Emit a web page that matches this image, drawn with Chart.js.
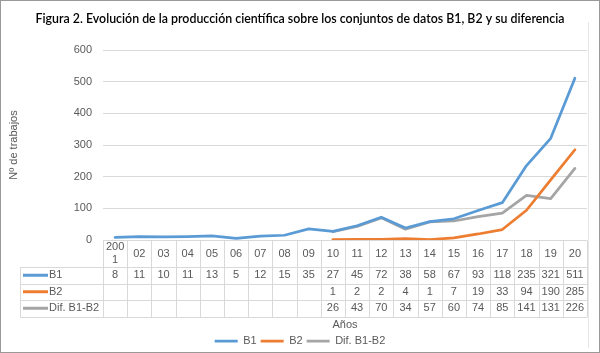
<!DOCTYPE html>
<html>
<head>
<meta charset="utf-8">
<script src="https://cdn.jsdelivr.net/npm/chart.js@4/dist/chart.umd.min.js"></script>
<style>
html,body{margin:0;padding:0;background:#fff;}
canvas{display:block;}
</style>
</head>
<body>
<canvas id="c" width="600" height="353"></canvas>
<script>
// ---- data ----
const titleText = "Figura 2. Evolución de la producción científica sobre los conjuntos de datos B1, B2 y su diferencia";
const categories = ["2001","02","03","04","05","06","07","08","09","10","11","12","13","14","15","16","17","18","19","20"];
const seriesNames = ["B1", "B2", "Dif. B1-B2"];
const b1Values = [8,11,10,11,13,5,12,15,35,27,45,72,38,58,67,93,118,235,321,511];
const b2Values = [null,null,null,null,null,null,null,null,null,1,2,2,4,1,7,19,33,94,190,285];
const difValues = [null,null,null,null,null,null,null,null,null,26,43,70,34,57,60,74,85,141,131,226];
const yTicks = [0,100,200,300,400,500,600];
const xTitle = "Años";
const yTitle = "Nº de trabajos";

const colors = ["#5B9BD5", "#ED7D31", "#A5A5A5"];
const textColor = "#595959";
const gridColor = "#D9D9D9";
const baseFont = "'Liberation Sans', Arial, sans-serif";
const lineW = 2.75;

// title font size fitted to reference width
const titleWeight = '600';
const mctx = document.createElement('canvas').getContext('2d');
mctx.font = `${titleWeight} 13px Lato`;
const w13 = mctx.measureText(titleText).width;
const titleSize = 13 * 529 / w13;
const titleLH = titleSize * 1.2;
const titlePadTop = 19 - titleLH / 2;
const titlePadBottom = 50 - titlePadTop - titleLH;

const tablePlugin = {
  id: 'dataTable',
  beforeDraw(chart) {
    const ctx = chart.ctx;
    ctx.save();
    ctx.fillStyle = '#fff';
    ctx.fillRect(0, 0, chart.width, chart.height);
    ctx.restore();
  },
  afterDraw(chart) {
    const ctx = chart.ctx;
    const xs = chart.scales.x;
    const area = chart.chartArea;
    const n = categories.length;
    const cw = xs.width / n;
    const left = xs.left, right = xs.right;
    const top = area.bottom;
    const rowH = [27, 16.5, 16.5, 16.5];
    const rowY = [top];
    rowH.forEach(h => rowY.push(rowY[rowY.length - 1] + h));
    const keyLeft = 20.5;
    const al = v => Math.round(v) + 0.5;
    ctx.save();
    ctx.strokeStyle = gridColor;
    ctx.lineWidth = 1;
    ctx.beginPath();
    ctx.moveTo(left, al(rowY[0])); ctx.lineTo(right, al(rowY[0]));
    for (let r = 1; r < rowY.length; r++) {
      ctx.moveTo(keyLeft, al(rowY[r])); ctx.lineTo(right, al(rowY[r]));
    }
    for (let i = 0; i <= n; i++) {
      const x = al(left + i * cw);
      ctx.moveTo(x, al(rowY[0])); ctx.lineTo(x, al(rowY[4]));
    }
    ctx.moveTo(keyLeft, al(rowY[1])); ctx.lineTo(keyLeft, al(rowY[4]));
    ctx.stroke();

    ctx.fillStyle = textColor;
    ctx.font = `11px ${baseFont}`;
    ctx.textAlign = 'center';
    ctx.textBaseline = 'middle';
    categories.forEach((lab, i) => {
      const cx = xs.getPixelForValue(i);
      const maxW = cw - 3;
      if (ctx.measureText(lab).width > maxW) {
        let k = lab.length;
        while (k > 1 && ctx.measureText(lab.slice(0, k)).width > maxW) k--;
        const cy = (rowY[0] + rowY[1]) / 2;
        ctx.fillText(lab.slice(0, k), cx, cy - 6.5);
        ctx.fillText(lab.slice(k), cx, cy + 6.5);
      } else {
        ctx.fillText(lab, cx, (rowY[0] + rowY[1]) / 2);
      }
    });
    const rows = [b1Values, b2Values, difValues];
    rows.forEach((vals, r) => {
      const cy = (rowY[r + 1] + rowY[r + 2]) / 2;
      vals.forEach((v, i) => {
        if (v === null) return;
        ctx.fillText(String(v), xs.getPixelForValue(i), cy);
      });
      ctx.save();
      ctx.strokeStyle = colors[r];
      ctx.lineWidth = 3;
      ctx.beginPath();
      ctx.moveTo(23, cy); ctx.lineTo(48, cy);
      ctx.stroke();
      ctx.restore();
      ctx.textAlign = 'left';
      ctx.fillText(seriesNames[r], 49, cy);
      ctx.textAlign = 'center';
    });

    ctx.strokeStyle = '#E6E6E6';
    ctx.beginPath();
    ctx.moveTo(588.5, 22); ctx.lineTo(588.5, 348);
    ctx.stroke();
    ctx.strokeStyle = '#999999';
    ctx.strokeRect(0.5, 0.5, chart.width - 1, chart.height - 1);
    ctx.restore();
  }
};

new Chart(document.getElementById('c'), {
  type: 'line',
  data: {
    labels: categories,
    datasets: [
      { label: seriesNames[0], data: b1Values, borderColor: colors[0], backgroundColor: colors[0], borderWidth: lineW },
      { label: seriesNames[1], data: b2Values, borderColor: colors[1], backgroundColor: colors[1], borderWidth: lineW },
      { label: seriesNames[2], data: difValues, borderColor: colors[2], backgroundColor: colors[2], borderWidth: lineW }
    ]
  },
  options: {
    responsive: false,
    animation: false,
    devicePixelRatio: 1,
    elements: {
      line: { tension: 0, borderCapStyle: 'round', borderJoinStyle: 'round' },
      point: { radius: 0, hoverRadius: 0 }
    },
    layout: { padding: { left: 13, right: 13, top: 0, bottom: -3.5 } },
    plugins: {
      title: {
        display: true,
        text: titleText,
        color: '#000',
        font: { family: 'Lato', size: titleSize, weight: titleWeight, lineHeight: 1.2 },
        padding: { top: titlePadTop, bottom: titlePadBottom }
      },
      legend: {
        position: 'bottom',
        labels: {
          usePointStyle: true,
          pointStyle: 'line',
          pointStyleWidth: 23,
          color: textColor,
          font: { family: baseFont, size: 11 },
          padding: 4
        }
      },
      tooltip: { enabled: false }
    },
    scales: {
      x: {
        type: 'category',
        offset: true,
        grid: { display: false },
        border: { display: false },
        ticks: { display: false },
        title: {
          display: true, text: xTitle, color: textColor,
          font: { family: baseFont, size: 11, lineHeight: 1.2 },
          padding: { top: 0, bottom: 0 }
        },
        afterFit(s) { s.height = 91.5; }
      },
      y: {
        min: 0, max: 600,
        afterBuildTicks(s) { s.ticks = yTicks.map(v => ({ value: v })); },
        ticks: { color: textColor, font: { family: baseFont, size: 11 }, padding: 11 },
        grid: { color: gridColor, drawTicks: false },
        border: { display: false },
        title: {
          display: true, text: yTitle, color: textColor,
          font: { family: baseFont, size: 11, lineHeight: 1.2 },
          padding: { top: -5.6, bottom: 0 }
        },
        afterFit(s) { s.width = 90; }
      }
    }
  },
  plugins: [tablePlugin]
});
</script>
</body>
</html>
